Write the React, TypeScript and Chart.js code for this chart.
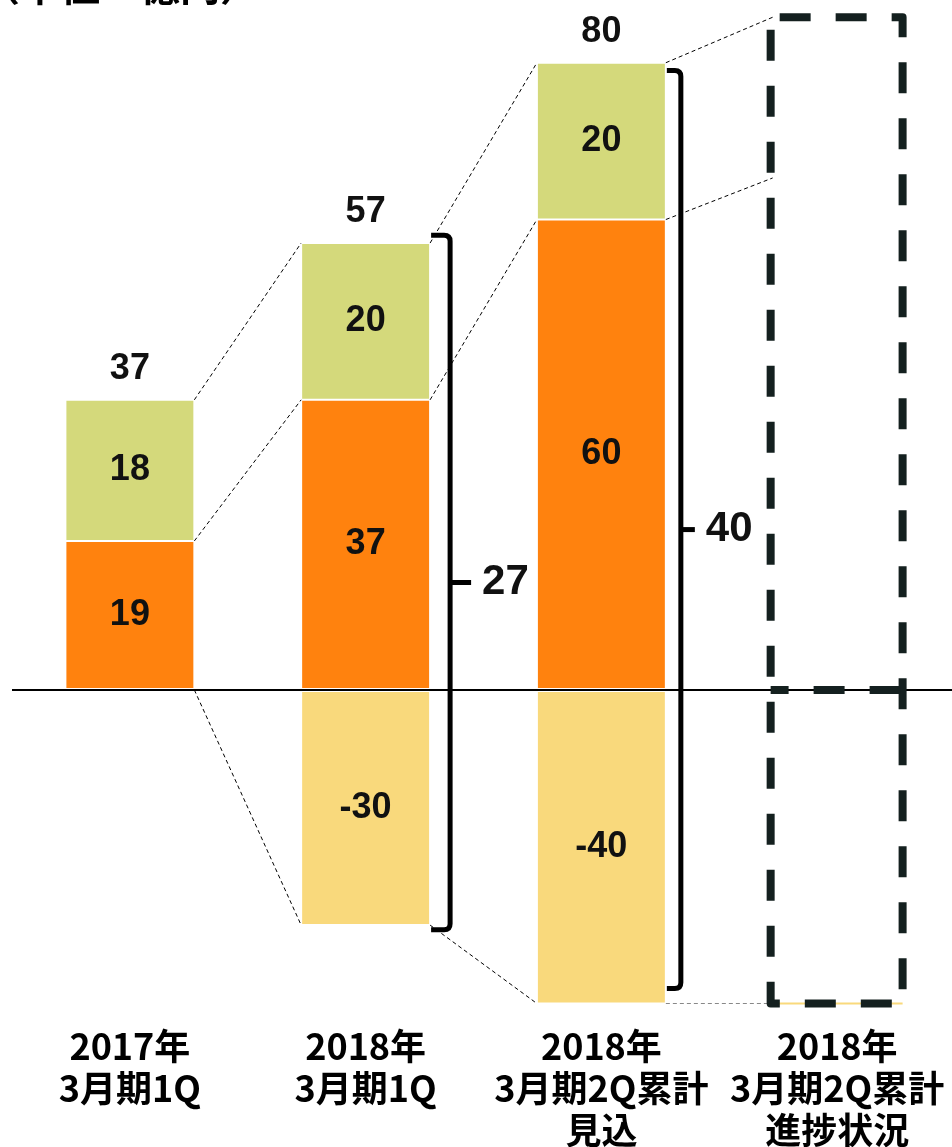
import React, { useEffect, useRef } from 'react';
import { Chart, registerables } from 'chart.js';

Chart.register(...registerables);

// ---------- data ----------
const categories = [
  ['2017年', '3月期1Q'],
  ['2018年', '3月期1Q'],
  ['2018年', '3月期2Q累計', '見込'],
  ['2018年', '3月期2Q累計', '進捗状況'],
];
const orangeValues = [19, 37, 60, null];
const greenValues = [18, 20, 20, null];
const yellowValues = [null, -30, -40, null];
const totalLabels = ['37', '57', '80', null];
const bracketTop = [null, 58, 79, null];
const bracketBottom = [null, -30.6, -38.1, null];
const bracketLabels = [null, '27', '40', null];
// dashed connectors from the right edge of category i to the left edge of category i+1
const connectorFrom = [
  [37, 19, 0],
  [57, 37, -30],
  [80, 60, -40],
];
const connectorTo = [
  [57, 37, -30],
  [80, 60, -40],
  [85.8, 65.3, -40],
];
// dashed "progress" box of the 4th category: top, middle, bottom
const progressBox = [85.8, 0, -40];
const yMin = -40;
const yMax = 88;
const unitTitle = '（単位：億円）';

// ---------- styles ----------
const ORANGE = '#FF820E';
const GREEN = '#D4D97B';
const YELLOW = '#F9D97C';
const BOX = '#14201F';
const LABEL_FONT = 'bold 36px "Liberation Sans", Arial, sans-serif';
const BRACKET_FONT = 'bold 42px "Liberation Sans", Arial, sans-serif';
const CJK = '"Noto Sans CJK JP", "Noto Sans", sans-serif';
// per-bracket geometry (px): gap from bar, tick length, label offset
const BRACKET_GEOM: Record<number, { gap: number; tick: number; label: number }> = {
  1: { gap: 20, tick: 21, label: 32 },
  2: { gap: 15, tick: 14, label: 25 },
};

const overlay = {
  id: 'overlay',
  afterDraw(chart: any) {
    const ctx = chart.ctx as CanvasRenderingContext2D;
    const xs = chart.scales.x;
    const ys = chart.scales.y;
    const meta0 = chart.getDatasetMeta(0);
    const barW = meta0.data[0].width;
    const half = barW / 2;
    const cx = (i: number) => xs.getPixelForValue(i);
    const py = (v: number) => ys.getPixelForValue(v);

    ctx.save();
    // title (cut off at top)
    ctx.fillStyle = '#000';
    ctx.font = `bold 40px ${CJK}`;
    ctx.textAlign = 'left';
    ctx.textBaseline = 'alphabetic';
    ctx.fillText(unitTitle, -20, 1);

    // connectors
    ctx.lineWidth = 1;
    ctx.setLineDash([4, 3]);
    connectorFrom.forEach((levels, i) => {
      levels.forEach((v, k) => {
        const isLastFlat = i === connectorFrom.length - 1 && k === 2;
        ctx.strokeStyle = isLastFlat ? '#888' : '#000';
        ctx.beginPath();
        ctx.moveTo(cx(i) + half, py(v));
        ctx.lineTo(cx(i + 1) - half, py(connectorTo[i][k]));
        ctx.stroke();
      });
    });
    ctx.setLineDash([]);

    // data labels inside segments
    ctx.font = LABEL_FONT;
    ctx.textAlign = 'center';
    ctx.textBaseline = 'middle';
    ctx.fillStyle = '#111';
    [0, 1, 2].forEach((d) => {
      const meta = chart.getDatasetMeta(d);
      const vals = chart.data.datasets[d].data;
      meta.data.forEach((el: any, i: number) => {
        const v = vals[i];
        if (v === null || v === undefined) return;
        ctx.fillText(String(v), cx(i), (el.y + el.base) / 2);
      });
    });
    // total labels
    totalLabels.forEach((t, i) => {
      if (!t) return;
      const top = (orangeValues[i] || 0) + (greenValues[i] || 0);
      ctx.fillText(t, cx(i), py(top) - 31);
    });

    // brackets
    bracketTop.forEach((tv, i) => {
      if (tv === null) return;
      const g = BRACKET_GEOM[i];
      const bv = bracketBottom[i] as number;
      const right = cx(i) + half;
      const bx = right + g.gap;
      const yt = py(tv);
      const yb = py(bv);
      const ym = (yt + yb) / 2;
      const r = 6;
      ctx.strokeStyle = '#000';
      ctx.lineWidth = 5;
      ctx.lineJoin = 'round';
      ctx.beginPath();
      ctx.moveTo(right + 1, yt);
      ctx.lineTo(bx - r, yt);
      ctx.quadraticCurveTo(bx, yt, bx, yt + r);
      ctx.lineTo(bx, yb - r);
      ctx.quadraticCurveTo(bx, yb, bx - r, yb);
      ctx.lineTo(right + 1, yb);
      ctx.stroke();
      ctx.beginPath();
      ctx.moveTo(bx, ym);
      ctx.lineTo(bx + g.tick, ym);
      ctx.stroke();
      ctx.font = BRACKET_FONT;
      ctx.textAlign = 'left';
      ctx.textBaseline = 'middle';
      ctx.fillStyle = '#111';
      ctx.fillText(bracketLabels[i] as string, bx + g.label, ym);
    });

    // progress box
    const bi = 3;
    const bl = cx(bi) - half - 2;
    const br = cx(bi) + half + 1;
    const bt = py(progressBox[0]);
    const bm = py(progressBox[1]);
    const bb = py(progressBox[2]);
    ctx.strokeStyle = YELLOW;
    ctx.lineWidth = 2;
    ctx.beginPath();
    ctx.moveTo(bl, bb);
    ctx.lineTo(br, bb);
    ctx.stroke();

    ctx.strokeStyle = BOX;
    ctx.lineWidth = 8;
    ctx.lineJoin = 'round';
    ctx.setLineDash([31, 25]);
    ctx.lineDashOffset = 47;
    ctx.beginPath();
    ctx.moveTo(bl, bt);
    ctx.lineTo(br, bt);
    ctx.lineTo(br, bb);
    ctx.lineTo(bl, bb);
    ctx.closePath();
    ctx.stroke();
    ctx.lineDashOffset = 0;
    ctx.beginPath();
    ctx.moveTo(br - 2, bm);
    ctx.lineTo(bl, bm);
    ctx.stroke();
    ctx.restore();
  },
};

export default function App() {
  const ref = useRef<HTMLCanvasElement>(null);
  useEffect(() => {
    if (!ref.current) return;
    const chart = new Chart(ref.current, {
      type: 'bar',
      data: {
        labels: categories,
        datasets: [
          { data: orangeValues, backgroundColor: ORANGE, borderColor: '#fff', borderWidth: 1, borderSkipped: false },
          { data: greenValues, backgroundColor: GREEN, borderColor: '#fff', borderWidth: 1, borderSkipped: false },
          { data: yellowValues, backgroundColor: YELLOW, borderColor: '#fff', borderWidth: 1, borderSkipped: false },
        ] as any,
      },
      options: {
        responsive: false,
        animation: false,
        devicePixelRatio: 1,
        datasets: { bar: { barPercentage: 0.547, categoryPercentage: 1 } },
        layout: { padding: { left: 12, right: 5, top: 0, bottom: 0 } },
        plugins: { legend: { display: false }, tooltip: { enabled: false }, title: { display: false } },
        scales: {
          x: {
            stacked: true,
            grid: { display: false },
            border: { display: false },
            ticks: {
              autoSkip: false,
              maxRotation: 0,
              minRotation: 0,
              padding: 14,
              color: '#000',
              font: { family: CJK, size: 36, weight: 'bold', lineHeight: 1.1667 },
            },
            afterFit: (s: any) => {
              s.height = 143.5;
              s.paddingLeft = 0;
              s.paddingRight = 0;
            },
          },
          y: {
            stacked: true,
            min: yMin,
            max: yMax,
            ticks: { display: false, stepSize: 10 },
            grid: {
              z: 1,
              drawTicks: false,
              lineWidth: 2,
              color: (c: any) => (c.tick && c.tick.value === 0 ? '#000' : 'rgba(0,0,0,0)'),
            },
            border: { display: false },
            afterFit: (s: any) => {
              s.width = 0;
              s.paddingTop = 0;
              s.paddingBottom = 0;
            },
          },
        },
      } as any,
      plugins: [overlay],
    });
    return () => chart.destroy();
  }, []);
  return (
    <div style={{ position: 'absolute', left: 0, top: 0, width: 952, height: 1147, overflow: 'hidden', background: '#fff' }}>
      <canvas ref={ref} width={960} height={1147} style={{ display: 'block', width: 960, height: 1147 }} />
    </div>
  );
}
